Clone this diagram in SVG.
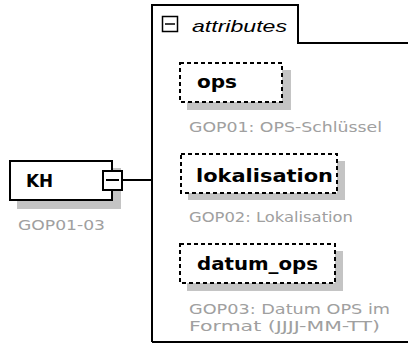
<svg xmlns="http://www.w3.org/2000/svg" width="408" height="352" viewBox="0 0 408 352">
<style>
.shadow{fill:#c4c4c4;stroke:none}
.box{fill:#fff;stroke:#000;stroke-width:2}
.dbox{fill:#fff;stroke:#000;stroke-width:2;stroke-dasharray:4 3}
.name{font-family:"DejaVu Sans","Liberation Sans",sans-serif;font-weight:bold;font-size:17px;fill:#000}
.desc{font-family:"DejaVu Sans","Liberation Sans",sans-serif;font-size:14px;fill:#a0a0a0}
.line{stroke:#000;stroke-width:2;fill:none}
</style>
<rect width="408" height="352" fill="#fff"/>
<g id="attributes">
<path class="line" d="M152,342 V5 H298 V43 H408"/>
<line x1="152" y1="342" x2="408" y2="342" stroke="#000" stroke-width="2"/>
<rect x="162.5" y="16.5" width="15" height="15" fill="#fff" stroke="#000" stroke-width="1.5"/>
<line x1="165" y1="24" x2="175" y2="24" stroke="#000" stroke-width="1.5"/>
<text x="192" y="32" font-family="Liberation Sans,sans-serif" font-style="italic" font-size="17" textLength="95" lengthAdjust="spacingAndGlyphs">attributes</text>
</g>
<g id="connectors">
<line class="line" x1="123" y1="180" x2="152" y2="180"/>
</g>
<g id="KH">
<rect class="shadow" x="17" y="168" width="104" height="41"/>
<rect class="box" x="10" y="161" width="102" height="39"/>
<text class="name" x="26" y="187" font-size="18" textLength="27" lengthAdjust="spacingAndGlyphs">KH</text>
<rect x="103" y="171" width="19" height="19" fill="#fff" stroke="#000" stroke-width="2"/>
<line x1="106" y1="180" x2="119" y2="180" stroke="#000" stroke-width="2"/>
<text class="desc" x="18" y="230" textLength="87" lengthAdjust="spacingAndGlyphs">GOP01-03</text>
</g>
<g id="ops">
<rect class="shadow" x="187" y="70" width="104" height="40"/>
<rect class="dbox" x="180" y="63" width="102" height="39"/>
<text class="name" x="197" y="88" textLength="40" lengthAdjust="spacingAndGlyphs">ops</text>
<text class="desc" x="189" y="132" textLength="193" lengthAdjust="spacingAndGlyphs">GOP01: OPS-Schlüssel</text>
</g>
<g id="lokalisation">
<rect class="shadow" x="188" y="161" width="157" height="39"/>
<rect class="dbox" x="181" y="154" width="156" height="39"/>
<text class="name" x="196" y="182" textLength="137" lengthAdjust="spacingAndGlyphs">lokalisation</text>
<text class="desc" x="189" y="222" textLength="164" lengthAdjust="spacingAndGlyphs">GOP02: Lokalisation</text>
</g>
<g id="datum_ops">
<rect class="shadow" x="187" y="251" width="156" height="40"/>
<rect class="dbox" x="180" y="244" width="155" height="39"/>
<text class="name" x="197" y="270" textLength="121" lengthAdjust="spacingAndGlyphs">datum_ops</text>
<text class="desc" x="189" y="314" textLength="201" lengthAdjust="spacingAndGlyphs">GOP03: Datum OPS im</text>
<text class="desc" x="189" y="331" textLength="191" lengthAdjust="spacingAndGlyphs">Format (JJJJ-MM-TT)</text>
</g>
</svg>
